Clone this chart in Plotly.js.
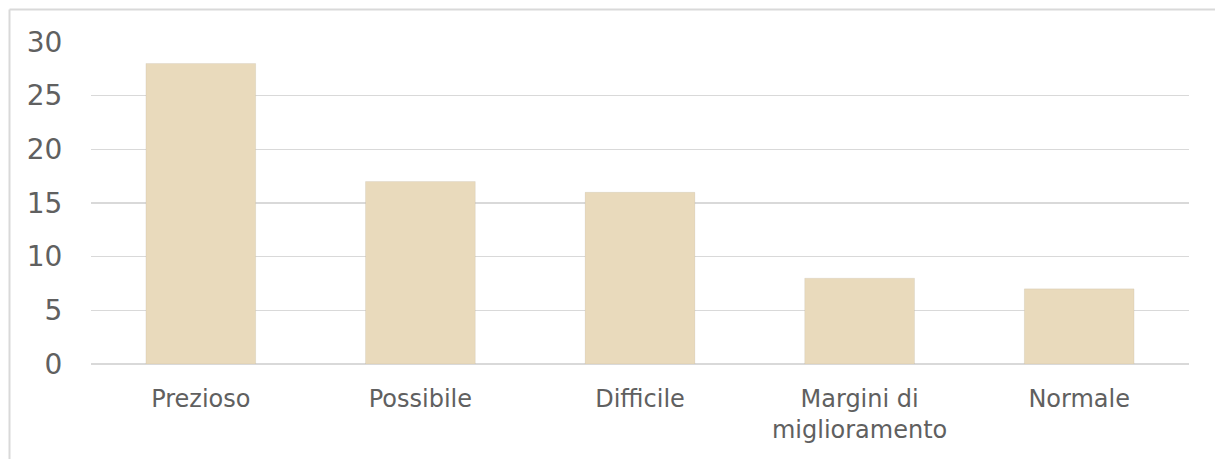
<!DOCTYPE html>
<html><head><meta charset="utf-8">
<script src="https://cdn.plot.ly/plotly-3.0.1.min.js"></script>
<style>html,body{margin:0;padding:0;background:#fff;}#chart{width:1215px;height:459px;}</style>
</head><body><div id="chart"></div>
<script>
const categories = ["Prezioso", "Possibile", "Difficile", "Margini di<br>miglioramento", "Normale"];
const values = [28, 17, 16, 8, 7];
const yTicks = [0, 5, 10, 15, 20, 25, 30];

const L = 91, R = 1189, T = 42, B = 364, W = 1215, H = 459;
const px = v => (v - L) / (R - L);
const py = v => (B - v) / (B - T);

Plotly.newPlot('chart', [{
  type: 'bar',
  x: categories,
  y: values,
  width: 0.5,
  marker: {color: '#E9DABC', line: {width: 1, color: 'rgba(0,0,0,0.05)'}},
  hoverinfo: 'none'
}], {
  width: W, height: H,
  margin: {l: L, r: W - R, t: T, b: H - B, pad: 0},
  paper_bgcolor: '#ffffff', plot_bgcolor: '#ffffff',
  showlegend: false,
  font: {family: '"DejaVu Sans", sans-serif', color: '#595959'},
  xaxis: {
    type: 'category', showgrid: false, zeroline: false, showline: false,
    ticks: 'outside', ticklen: 13, tickcolor: 'rgba(0,0,0,0)',
    tickfont: {size: 24, color: '#606060'}, fixedrange: true
  },
  yaxis: {
    range: [0, 30], tickvals: yTicks, ticktext: yTicks.map(String),
    showgrid: true, gridcolor: '#D9D9D9', gridwidth: 1.3,
    zeroline: true, zerolinecolor: '#D9D9D9', zerolinewidth: 1.3,
    showline: false, ticks: 'outside', ticklen: 22, tickcolor: 'rgba(0,0,0,0)',
    tickfont: {size: 28, color: '#606060'}, fixedrange: true
  },
  shapes: [
    {type: 'line', xref: 'paper', yref: 'paper', x0: px(9.5), x1: px(9.5), y0: py(9.5), y1: py(470), line: {color: '#D9D9D9', width: 2}},
    {type: 'line', xref: 'paper', yref: 'paper', x0: px(9.5), x1: px(1230), y0: py(9.5), y1: py(9.5), line: {color: '#D9D9D9', width: 2}}
  ]
}, {displayModeBar: false, staticPlot: true});
</script></body></html>
